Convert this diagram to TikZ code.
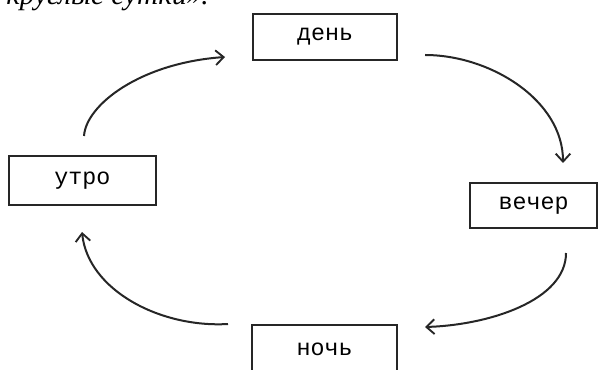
\documentclass[tikz,border=0pt]{standalone}
\usepackage{fontspec}
\setmainfont{Liberation Serif}
\newfontfamily\boxfont{Liberation Mono}
\usetikzlibrary{arrows.meta}
\tikzset{
  x=0.75pt, y=-0.75pt,
  stagebox/.style={draw=black!85, line width=1pt, fill=white, inner sep=0pt, font=\boxfont\fontsize{17.5}{20}\selectfont},
  cycarrow/.style={draw=black!85, line width=1.5pt, -{Straight Barb[length=6pt,width=11pt,line width=1.4pt]}}
}
\begin{document}
\begin{tikzpicture}
\useasboundingbox (0,0) rectangle (602,370);
\node[anchor=base west, inner sep=0pt, font=\itshape\fontsize{22}{24}\selectfont] (title) at (6,5) {круглые сутки».};
\node[stagebox, minimum width=144*0.75pt, minimum height=46*0.75pt] (den) at (325,37) {день};
\node[stagebox, minimum width=147*0.75pt, minimum height=49*0.75pt] (utro) at (82.5,180.5) {утро};
\node[stagebox, minimum width=127*0.75pt, minimum height=45*0.75pt] (vecher) at (533.5,205.5) {вечер};
\node[stagebox, minimum width=145*0.75pt, minimum height=60*0.75pt, text depth=0pt] (noch) at (324.5,355) {\raisebox{8pt}{ночь}};
\coordinate (a1s) at (84,136);
\coordinate (a1e) at (225,57);
\coordinate (a2s) at (425,55);
\coordinate (a2e) at (563,163);
\coordinate (a3s) at (566,253);
\coordinate (a3e) at (425,327);
\coordinate (a4s) at (228,324);
\coordinate (a4e) at (82,232);
\draw[cycarrow] (a1s) .. controls (86,105) and (140,63) .. (a1e);
\draw[cycarrow] (a2s) .. controls (490,55) and (563,100) .. (a2e);
\draw[cycarrow] (a3s) .. controls (566,300) and (490,325) .. (a3e);
\draw[cycarrow] (a4s) .. controls (160,328) and (88,290) .. (a4e);
\end{tikzpicture}
\end{document}
